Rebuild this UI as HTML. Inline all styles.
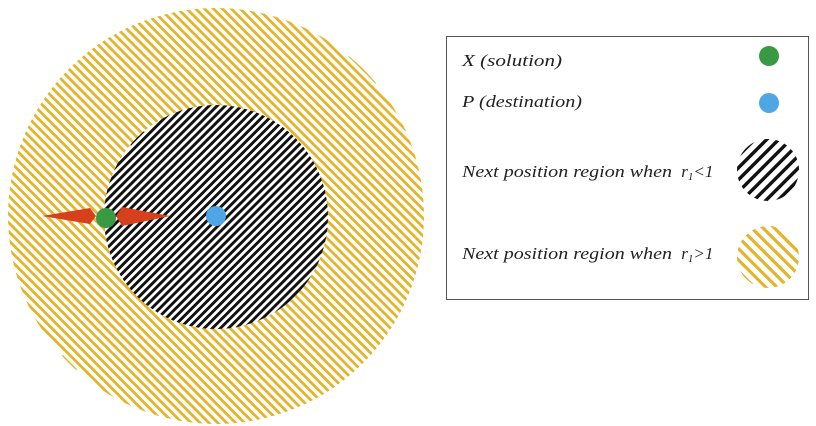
<!DOCTYPE html>
<html><head><meta charset="utf-8"><style>
html,body{margin:0;background:#fff;overflow:hidden;width:816px;height:426px}
svg{display:block}
text{font-family:"Liberation Serif",serif;font-style:italic;font-size:17px;fill:#222}
</style></head><body>
<svg id="s" width="816" height="426">
<defs>
<clipPath id="cOuter"><circle cx="216" cy="216" r="208"/></clipPath>
<clipPath id="cInner"><circle cx="216" cy="217" r="112"/></clipPath>
<clipPath id="cL1"><circle cx="768" cy="170" r="31"/></clipPath>
<clipPath id="cL2"><circle cx="768" cy="257" r="31"/></clipPath>
</defs>
<g id="gOuter" clip-path="url(#cOuter)"></g>
<g id="gInner" clip-path="url(#cInner)"><circle cx="216" cy="217" r="112" fill="#fff"/></g>
<polygon points="42,216 90,208 96,216 90,224" fill="#d6401c"/>
<polygon points="170,216 122,207 116,216 122,226" fill="#d6401c"/>
<circle cx="106" cy="218" r="10" fill="#3a9a44"/>
<circle cx="216" cy="216" r="10" fill="#4ea6e4"/>
<g>
<rect x="446.5" y="36.5" width="362" height="263" fill="#fff" stroke="#555" stroke-width="1"/>
<text x="462" y="66" textLength="100" lengthAdjust="spacingAndGlyphs">X  (solution)</text>
<circle cx="769" cy="56" r="10" fill="#3a9a44"/>
<text x="462" y="107" textLength="120" lengthAdjust="spacingAndGlyphs">P  (destination)</text>
<circle cx="769" cy="103" r="10" fill="#4ea6e4"/>
<text x="462" y="177"><tspan textLength="210" lengthAdjust="spacingAndGlyphs">Next position region when</tspan><tspan x="677"> r</tspan><tspan font-size="11" dy="3">1</tspan><tspan dy="-3">&lt;1</tspan></text>
<g id="gL1" clip-path="url(#cL1)"></g>
<text x="462" y="259"><tspan textLength="210" lengthAdjust="spacingAndGlyphs">Next position region when</tspan><tspan x="677"> r</tspan><tspan font-size="11" dy="3">1</tspan><tspan dy="-3">&gt;1</tspan></text>
<g id="gL2" clip-path="url(#cL2)"></g>
</g>
</svg>
<script>
const NS="http://www.w3.org/2000/svg";
// dir=1: "/" stripes, dir=-1: "\" stripes
function stripes(id,cx,cy,r,color,w,period,dir){
  const g=document.getElementById(id);
  const s=Math.SQRT1_2;
  for(let d=-r-period;d<r+period;d+=period){
    const h=Math.sqrt(Math.max(0,r*r-d*d))+period+4;
    const px=cx+d*s, py=cy+dir*d*s;
    const l=document.createElementNS(NS,'line');
    l.setAttribute('x1',px-h*s);l.setAttribute('y1',py+dir*h*s);
    l.setAttribute('x2',px+h*s);l.setAttribute('y2',py-dir*h*s);
    l.setAttribute('stroke',color);l.setAttribute('stroke-width',w);
    
    
    g.appendChild(l);
  }
}
stripes('gOuter',216,216,208,'#e4b42a',2.8,6.3,-1);
stripes('gInner',216,217,112,'#111',2.9,5.7,1);
stripes('gL1',768,170,31,'#111',3.4,8.5,1);
stripes('gL2',768,257,31,'#e4b42a',3.2,8,-1);
</script>
</body></html>
